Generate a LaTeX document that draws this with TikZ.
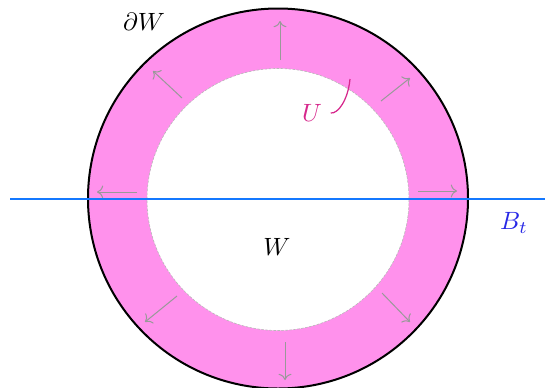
\documentclass[tikz,border=0pt]{standalone}
\usepackage{tikz}
\usetikzlibrary{arrows.meta, positioning}
\definecolor{ringpink}{RGB}{255,145,236}
\definecolor{linkpink}{RGB}{214,40,140}
\definecolor{lineblue}{RGB}{20,120,255}
\definecolor{labelblue}{RGB}{40,40,230}

\begin{document}
\begin{tikzpicture}[x=0.4pt,y=-0.4pt]
\useasboundingbox (0,0) rectangle (545,387);
\fill [ringpink, even odd rule] (278,198.5) circle (190) (278,199.5) circle (131);
\draw [black, line width=0.8pt] (278,198.5) circle (190);
\draw [gray!55, dash pattern=on 1pt off 0.6pt, line width=0.25pt] (278,199.5) circle (131);
\draw [gray!80, ->] (280,60) -- (280,21);
\draw [gray!80, ->] (182,98) -- (153,71);
\draw [gray!80, ->] (381,101) -- (410,78);
\draw [gray!80, ->] (418,191) -- (457,191);
\draw [gray!80, ->] (137,192) -- (97,192);
\draw [gray!80, ->] (177,296) -- (145,322);
\draw [gray!80, ->] (382,293) -- (410,322);
\draw [gray!80, ->] (285,342) -- (285,380);
\draw [lineblue, line width=0.8pt] (10,199) -- (545,199);
\node (dW) at (144,22) {$\partial W$};
\node (W) at (277,247) {$W$};
\node (Bt) at (514,223) [text=labelblue] {$B_t$};
\node (U) at (312,113) [text=linkpink] {$U$};
\coordinate (Uend) at (350,79);
\draw [linkpink, line width=0.5pt] (U.east) .. controls (338,114) and (348,100) .. (Uend);
\end{tikzpicture}
\end{document}
